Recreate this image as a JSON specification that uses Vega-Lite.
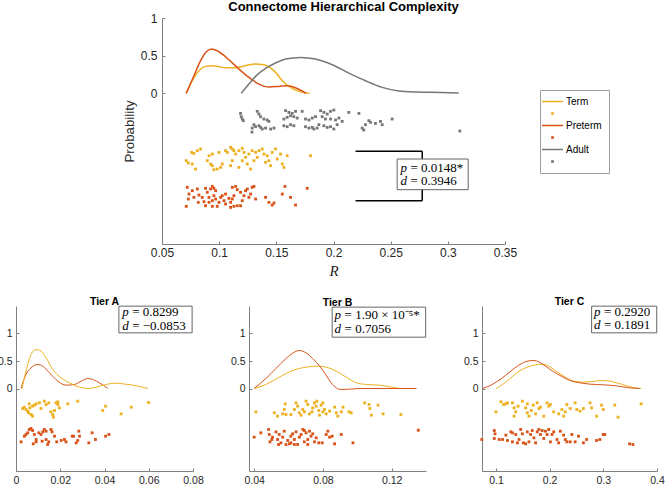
{
  "$schema": "https://vega.github.io/schema/vega-lite/v6.json",
  "padding": {"left": -3, "top": 1, "right": 0, "bottom": 0},
  "background": "white",
  "spacing": 19,
  "resolve": {"scale": {"color": "independent"}, "legend": {"color": "independent"}},
  "config": {
    "view": {"stroke": null},
    "font": "Liberation Sans",
    "axis": {"grid": false, "domainColor": "#808080", "tickColor": "#808080", "labelColor": "#262626", "titleColor": "#262626", "labelFont": "Liberation Sans", "titleFont": "Liberation Sans", "domainWidth": 1, "tickWidth": 1, "labelFlush": false, "labelOverlap": false},
    "title": {"font": "Liberation Sans", "color": "#000000"}
  },
  "datasets": {
    "top_curves": [
      {"group": "Term", "R": 0.0712, "value": 0}, {"group": "Term", "R": 0.0765, "value": 0.167}, {"group": "Term", "R": 0.0823, "value": 0.30}, {"group": "Term", "R": 0.0881, "value": 0.358}, {"group": "Term", "R": 0.094, "value": 0.367}, {"group": "Term", "R": 0.0998, "value": 0.353}, {"group": "Term", "R": 0.1056, "value": 0.34}, {"group": "Term", "R": 0.1144, "value": 0.34}, {"group": "Term", "R": 0.1231, "value": 0.367}, {"group": "Term", "R": 0.1319, "value": 0.389}, {"group": "Term", "R": 0.1377, "value": 0.384}, {"group": "Term", "R": 0.1435, "value": 0.353}, {"group": "Term", "R": 0.1493, "value": 0.278}, {"group": "Term", "R": 0.1552, "value": 0.167}, {"group": "Term", "R": 0.1624, "value": 0.079}, {"group": "Term", "R": 0.1697, "value": 0.026}, {"group": "Term", "R": 0.1791, "value": 0},
      {"group": "Preterm", "R": 0.0712, "value": 0}, {"group": "Preterm", "R": 0.0779, "value": 0.234}, {"group": "Preterm", "R": 0.0838, "value": 0.433}, {"group": "Preterm", "R": 0.0881, "value": 0.543}, {"group": "Preterm", "R": 0.0934, "value": 0.588}, {"group": "Preterm", "R": 0.0998, "value": 0.552}, {"group": "Preterm", "R": 0.1085, "value": 0.446}, {"group": "Preterm", "R": 0.1173, "value": 0.322}, {"group": "Preterm", "R": 0.126, "value": 0.212}, {"group": "Preterm", "R": 0.1348, "value": 0.123}, {"group": "Preterm", "R": 0.1435, "value": 0.084}, {"group": "Preterm", "R": 0.1522, "value": 0.092}, {"group": "Preterm", "R": 0.1595, "value": 0.101}, {"group": "Preterm", "R": 0.1668, "value": 0.075}, {"group": "Preterm", "R": 0.1726, "value": 0.031}, {"group": "Preterm", "R": 0.1761, "value": 0},
      {"group": "Adult", "R": 0.1193, "value": 0}, {"group": "Adult", "R": 0.126, "value": 0.123}, {"group": "Adult", "R": 0.1318, "value": 0.225}, {"group": "Adult", "R": 0.1406, "value": 0.331}, {"group": "Adult", "R": 0.1493, "value": 0.402}, {"group": "Adult", "R": 0.1581, "value": 0.455}, {"group": "Adult", "R": 0.1712, "value": 0.477}, {"group": "Adult", "R": 0.1843, "value": 0.455}, {"group": "Adult", "R": 0.1989, "value": 0.38}, {"group": "Adult", "R": 0.2134, "value": 0.269}, {"group": "Adult", "R": 0.228, "value": 0.167}, {"group": "Adult", "R": 0.2426, "value": 0.079}, {"group": "Adult", "R": 0.2571, "value": 0.031}, {"group": "Adult", "R": 0.2717, "value": 0.017}, {"group": "Adult", "R": 0.2863, "value": 0.013}, {"group": "Adult", "R": 0.3096, "value": 0.004}
    ],
    "top_dots": [
      {"group": "Adult", "R": 0.1187, "value": -0.266}, {"group": "Adult", "R": 0.1193, "value": -0.31}, {"group": "Adult", "R": 0.1202, "value": -0.341}, {"group": "Adult", "R": 0.1211, "value": -0.363}, {"group": "Adult", "R": 0.1333, "value": -0.239}, {"group": "Adult", "R": 0.1348, "value": -0.275}, {"group": "Adult", "R": 0.1362, "value": -0.31}, {"group": "Adult", "R": 0.1391, "value": -0.341}, {"group": "Adult", "R": 0.142, "value": -0.354}, {"group": "Adult", "R": 0.1435, "value": -0.372}, {"group": "Adult", "R": 0.1304, "value": -0.416}, {"group": "Adult", "R": 0.1289, "value": -0.461}, {"group": "Adult", "R": 0.1318, "value": -0.443}, {"group": "Adult", "R": 0.1348, "value": -0.43}, {"group": "Adult", "R": 0.1362, "value": -0.452}, {"group": "Adult", "R": 0.1377, "value": -0.474}, {"group": "Adult", "R": 0.1406, "value": -0.461}, {"group": "Adult", "R": 0.145, "value": -0.474}, {"group": "Adult", "R": 0.1479, "value": -0.461}, {"group": "Adult", "R": 0.1581, "value": -0.23}, {"group": "Adult", "R": 0.161, "value": -0.253}, {"group": "Adult", "R": 0.1639, "value": -0.266}, {"group": "Adult", "R": 0.1668, "value": -0.239}, {"group": "Adult", "R": 0.1726, "value": -0.239}, {"group": "Adult", "R": 0.1624, "value": -0.297}, {"group": "Adult", "R": 0.1566, "value": -0.341}, {"group": "Adult", "R": 0.1595, "value": -0.319}, {"group": "Adult", "R": 0.1653, "value": -0.31}, {"group": "Adult", "R": 0.1683, "value": -0.328}, {"group": "Adult", "R": 0.1755, "value": -0.341}, {"group": "Adult", "R": 0.1785, "value": -0.354}, {"group": "Adult", "R": 0.1814, "value": -0.328}, {"group": "Adult", "R": 0.1843, "value": -0.31}, {"group": "Adult", "R": 0.1887, "value": -0.23}, {"group": "Adult", "R": 0.1916, "value": -0.253}, {"group": "Adult", "R": 0.1945, "value": -0.275}, {"group": "Adult", "R": 0.1974, "value": -0.239}, {"group": "Adult", "R": 0.2003, "value": -0.222}, {"group": "Adult", "R": 0.1901, "value": -0.31}, {"group": "Adult", "R": 0.193, "value": -0.341}, {"group": "Adult", "R": 0.1974, "value": -0.341}, {"group": "Adult", "R": 0.2018, "value": -0.354}, {"group": "Adult", "R": 0.2047, "value": -0.328}, {"group": "Adult", "R": 0.2076, "value": -0.372}, {"group": "Adult", "R": 0.2134, "value": -0.253}, {"group": "Adult", "R": 0.2222, "value": -0.266}, {"group": "Adult", "R": 0.1566, "value": -0.43}, {"group": "Adult", "R": 0.1595, "value": -0.443}, {"group": "Adult", "R": 0.1624, "value": -0.416}, {"group": "Adult", "R": 0.1653, "value": -0.43}, {"group": "Adult", "R": 0.1755, "value": -0.443}, {"group": "Adult", "R": 0.1785, "value": -0.461}, {"group": "Adult", "R": 0.1814, "value": -0.452}, {"group": "Adult", "R": 0.1828, "value": -0.474}, {"group": "Adult", "R": 0.1857, "value": -0.461}, {"group": "Adult", "R": 0.1872, "value": -0.416}, {"group": "Adult", "R": 0.1916, "value": -0.43}, {"group": "Adult", "R": 0.1945, "value": -0.452}, {"group": "Adult", "R": 0.1974, "value": -0.443}, {"group": "Adult", "R": 0.2003, "value": -0.474}, {"group": "Adult", "R": 0.2032, "value": -0.416}, {"group": "Adult", "R": 0.2251, "value": -0.461}, {"group": "Adult", "R": 0.2265, "value": -0.487}, {"group": "Adult", "R": 0.228, "value": -0.416}, {"group": "Adult", "R": 0.2309, "value": -0.363}, {"group": "Adult", "R": 0.2324, "value": -0.385}, {"group": "Adult", "R": 0.2367, "value": -0.399}, {"group": "Adult", "R": 0.2411, "value": -0.372}, {"group": "Adult", "R": 0.2426, "value": -0.416}, {"group": "Adult", "R": 0.2513, "value": -0.341}, {"group": "Adult", "R": 0.3105, "value": -0.5}, {"group": "Adult", "R": 0.1287, "value": -0.515},
      {"group": "Term", "R": 0.0712, "value": -0.894}, {"group": "Term", "R": 0.073, "value": -0.925}, {"group": "Term", "R": 0.0759, "value": -0.784}, {"group": "Term", "R": 0.0779, "value": -0.797}, {"group": "Term", "R": 0.0809, "value": -0.761}, {"group": "Term", "R": 0.0838, "value": -0.739}, {"group": "Term", "R": 0.0911, "value": -0.828}, {"group": "Term", "R": 0.0896, "value": -0.894}, {"group": "Term", "R": 0.0925, "value": -0.938}, {"group": "Term", "R": 0.0954, "value": -1.014}, {"group": "Term", "R": 0.0983, "value": -1.005}, {"group": "Term", "R": 0.1013, "value": -0.983}, {"group": "Term", "R": 0.1027, "value": -0.938}, {"group": "Term", "R": 0.1056, "value": -0.761}, {"group": "Term", "R": 0.1071, "value": -0.784}, {"group": "Term", "R": 0.11, "value": -0.717}, {"group": "Term", "R": 0.1115, "value": -0.739}, {"group": "Term", "R": 0.1129, "value": -0.761}, {"group": "Term", "R": 0.1144, "value": -0.806}, {"group": "Term", "R": 0.1115, "value": -0.894}, {"group": "Term", "R": 0.11, "value": -0.96}, {"group": "Term", "R": 0.1202, "value": -0.73}, {"group": "Term", "R": 0.1217, "value": -0.784}, {"group": "Term", "R": 0.1202, "value": -0.894}, {"group": "Term", "R": 0.1231, "value": -0.85}, {"group": "Term", "R": 0.1246, "value": -0.938}, {"group": "Term", "R": 0.1275, "value": -1.005}, {"group": "Term", "R": 0.126, "value": -0.806}, {"group": "Term", "R": 0.1289, "value": -0.761}, {"group": "Term", "R": 0.1304, "value": -0.894}, {"group": "Term", "R": 0.1319, "value": -0.784}, {"group": "Term", "R": 0.1348, "value": -0.761}, {"group": "Term", "R": 0.1377, "value": -0.739}, {"group": "Term", "R": 0.1391, "value": -0.806}, {"group": "Term", "R": 0.142, "value": -0.828}, {"group": "Term", "R": 0.1435, "value": -0.894}, {"group": "Term", "R": 0.1464, "value": -0.784}, {"group": "Term", "R": 0.1493, "value": -0.739}, {"group": "Term", "R": 0.1508, "value": -0.872}, {"group": "Term", "R": 0.1537, "value": -0.806}, {"group": "Term", "R": 0.1552, "value": -0.938}, {"group": "Term", "R": 0.1566, "value": -0.983}, {"group": "Term", "R": 0.1595, "value": -0.828}, {"group": "Term", "R": 0.1799, "value": -0.828}, {"group": "Term", "R": 0.0765, "value": -0.938}, {"group": "Term", "R": 0.094, "value": -0.96}, {"group": "Term", "R": 0.0998, "value": -0.784}, {"group": "Term", "R": 0.1173, "value": -0.761}, {"group": "Term", "R": 0.1333, "value": -0.85}, {"group": "Term", "R": 0.145, "value": -0.96}, {"group": "Term", "R": 0.094, "value": -0.806}, {"group": "Term", "R": 0.0794, "value": -1.005}, {"group": "Term", "R": 0.1173, "value": -0.983}, {"group": "Term", "R": 0.1406, "value": -0.916},
      {"group": "Preterm", "R": 0.0721, "value": -1.248}, {"group": "Preterm", "R": 0.0736, "value": -1.337}, {"group": "Preterm", "R": 0.073, "value": -1.403}, {"group": "Preterm", "R": 0.0712, "value": -1.5}, {"group": "Preterm", "R": 0.0765, "value": -1.292}, {"group": "Preterm", "R": 0.0779, "value": -1.381}, {"group": "Preterm", "R": 0.0809, "value": -1.27}, {"group": "Preterm", "R": 0.0823, "value": -1.35}, {"group": "Preterm", "R": 0.0817, "value": -1.447}, {"group": "Preterm", "R": 0.0881, "value": -1.261}, {"group": "Preterm", "R": 0.0896, "value": -1.314}, {"group": "Preterm", "R": 0.0911, "value": -1.381}, {"group": "Preterm", "R": 0.0925, "value": -1.27}, {"group": "Preterm", "R": 0.094, "value": -1.235}, {"group": "Preterm", "R": 0.0954, "value": -1.261}, {"group": "Preterm", "R": 0.0969, "value": -1.292}, {"group": "Preterm", "R": 0.0954, "value": -1.359}, {"group": "Preterm", "R": 0.094, "value": -1.425}, {"group": "Preterm", "R": 0.0911, "value": -1.447}, {"group": "Preterm", "R": 0.0881, "value": -1.492}, {"group": "Preterm", "R": 0.094, "value": -1.5}, {"group": "Preterm", "R": 0.0969, "value": -1.403}, {"group": "Preterm", "R": 0.0998, "value": -1.447}, {"group": "Preterm", "R": 0.1013, "value": -1.381}, {"group": "Preterm", "R": 0.1027, "value": -1.359}, {"group": "Preterm", "R": 0.1042, "value": -1.425}, {"group": "Preterm", "R": 0.1056, "value": -1.469}, {"group": "Preterm", "R": 0.11, "value": -1.447}, {"group": "Preterm", "R": 0.1115, "value": -1.403}, {"group": "Preterm", "R": 0.1129, "value": -1.359}, {"group": "Preterm", "R": 0.1115, "value": -1.248}, {"group": "Preterm", "R": 0.1144, "value": -1.235}, {"group": "Preterm", "R": 0.1158, "value": -1.279}, {"group": "Preterm", "R": 0.11, "value": -1.514}, {"group": "Preterm", "R": 0.1129, "value": -1.5}, {"group": "Preterm", "R": 0.1158, "value": -1.492}, {"group": "Preterm", "R": 0.1202, "value": -1.425}, {"group": "Preterm", "R": 0.1217, "value": -1.359}, {"group": "Preterm", "R": 0.1231, "value": -1.292}, {"group": "Preterm", "R": 0.1246, "value": -1.27}, {"group": "Preterm", "R": 0.126, "value": -1.381}, {"group": "Preterm", "R": 0.1275, "value": -1.337}, {"group": "Preterm", "R": 0.1289, "value": -1.248}, {"group": "Preterm", "R": 0.1304, "value": -1.235}, {"group": "Preterm", "R": 0.1406, "value": -1.381}, {"group": "Preterm", "R": 0.1435, "value": -1.447}, {"group": "Preterm", "R": 0.1464, "value": -1.483}, {"group": "Preterm", "R": 0.1479, "value": -1.456}, {"group": "Preterm", "R": 0.1552, "value": -1.337}, {"group": "Preterm", "R": 0.1575, "value": -1.235}, {"group": "Preterm", "R": 0.1624, "value": -1.381}, {"group": "Preterm", "R": 0.1668, "value": -1.483}, {"group": "Preterm", "R": 0.177, "value": -1.261}, {"group": "Preterm", "R": 0.0852, "value": -1.381}, {"group": "Preterm", "R": 0.0867, "value": -1.438}, {"group": "Preterm", "R": 0.0983, "value": -1.5}, {"group": "Preterm", "R": 0.1187, "value": -1.492}, {"group": "Preterm", "R": 0.1056, "value": -1.337}, {"group": "Preterm", "R": 0.1085, "value": -1.394}, {"group": "Preterm", "R": 0.1187, "value": -1.314}, {"group": "Preterm", "R": 0.1319, "value": -1.403}
    ],
    "top_bracket": [
      {"x": 0.2193, "x2": 0.2776, "y": -0.77, "y2": -0.77},
      {"x": 0.2193, "x2": 0.2776, "y": -1.425, "y2": -1.425},
      {"x": 0.2776, "x2": 0.2776, "y": -0.77, "y2": -1.425}
    ],
    "top_box": [{"x": 0.2557, "x2": 0.3178, "y": -0.872, "y2": -1.279}],
    "top_text": [{"sym": "p", "rest": "= 0.0148*", "x": 0.2586, "y": -0.996}, {"sym": "d", "rest": "= 0.3946", "x": 0.2586, "y": -1.16}],
    "a_curves": [
      {"group": "Preterm", "R": 0.0023, "value": 0}, {"group": "Preterm", "R": 0.0045, "value": 0.255}, {"group": "Preterm", "R": 0.0068, "value": 0.376}, {"group": "Preterm", "R": 0.0098, "value": 0.436}, {"group": "Preterm", "R": 0.0121, "value": 0.406}, {"group": "Preterm", "R": 0.0151, "value": 0.285}, {"group": "Preterm", "R": 0.0189, "value": 0.133}, {"group": "Preterm", "R": 0.0226, "value": 0.061}, {"group": "Preterm", "R": 0.0264, "value": 0.073}, {"group": "Preterm", "R": 0.0294, "value": 0.133}, {"group": "Preterm", "R": 0.0325, "value": 0.182}, {"group": "Preterm", "R": 0.0347, "value": 0.164}, {"group": "Preterm", "R": 0.0377, "value": 0.103}, {"group": "Preterm", "R": 0.0415, "value": 0},
      {"group": "Term", "R": 0.0027, "value": 0}, {"group": "Term", "R": 0.0045, "value": 0.315}, {"group": "Term", "R": 0.0068, "value": 0.618}, {"group": "Term", "R": 0.0091, "value": 0.709}, {"group": "Term", "R": 0.0113, "value": 0.679}, {"group": "Term", "R": 0.0136, "value": 0.558}, {"group": "Term", "R": 0.0166, "value": 0.345}, {"group": "Term", "R": 0.0204, "value": 0.194}, {"group": "Term", "R": 0.0242, "value": 0.103}, {"group": "Term", "R": 0.0287, "value": 0.024}, {"group": "Term", "R": 0.0325, "value": 0}, {"group": "Term", "R": 0.0362, "value": 0.024}, {"group": "Term", "R": 0.0408, "value": 0.073}, {"group": "Term", "R": 0.0445, "value": 0.097}, {"group": "Term", "R": 0.0483, "value": 0.085}, {"group": "Term", "R": 0.0528, "value": 0.061}, {"group": "Term", "R": 0.0596, "value": 0}
    ],
    "a_dots": [
      {"group": "Term", "R": 0.003, "value": -0.364}, {"group": "Term", "R": 0.0038, "value": -0.339}, {"group": "Term", "R": 0.0045, "value": -0.382}, {"group": "Term", "R": 0.0053, "value": -0.412}, {"group": "Term", "R": 0.0057, "value": -0.442}, {"group": "Term", "R": 0.0068, "value": -0.473}, {"group": "Term", "R": 0.0063, "value": -0.352}, {"group": "Term", "R": 0.0075, "value": -0.321}, {"group": "Term", "R": 0.0083, "value": -0.303}, {"group": "Term", "R": 0.0091, "value": -0.279}, {"group": "Term", "R": 0.0106, "value": -0.261}, {"group": "Term", "R": 0.0128, "value": -0.23}, {"group": "Term", "R": 0.0136, "value": -0.291}, {"group": "Term", "R": 0.0148, "value": -0.261}, {"group": "Term", "R": 0.0158, "value": -0.424}, {"group": "Term", "R": 0.0166, "value": -0.473}, {"group": "Term", "R": 0.0174, "value": -0.4}, {"group": "Term", "R": 0.0169, "value": -0.521}, {"group": "Term", "R": 0.0181, "value": -0.261}, {"group": "Term", "R": 0.0189, "value": -0.291}, {"group": "Term", "R": 0.0196, "value": -0.352}, {"group": "Term", "R": 0.0234, "value": -0.279}, {"group": "Term", "R": 0.0279, "value": -0.23}, {"group": "Term", "R": 0.0392, "value": -0.4}, {"group": "Term", "R": 0.0405, "value": -0.321}, {"group": "Term", "R": 0.0475, "value": -0.461}, {"group": "Term", "R": 0.0521, "value": -0.339}, {"group": "Term", "R": 0.0599, "value": -0.255}, {"group": "Term", "R": 0.0075, "value": -0.503}, {"group": "Term", "R": 0.006, "value": -0.279}, {"group": "Term", "R": 0.0113, "value": -0.364}, {"group": "Term", "R": 0.0189, "value": -0.242},
      {"group": "Preterm", "R": 0.0023, "value": -0.97}, {"group": "Preterm", "R": 0.0038, "value": -0.867}, {"group": "Preterm", "R": 0.0045, "value": -0.836}, {"group": "Preterm", "R": 0.0053, "value": -0.806}, {"group": "Preterm", "R": 0.006, "value": -0.745}, {"group": "Preterm", "R": 0.0068, "value": -0.727}, {"group": "Preterm", "R": 0.0075, "value": -0.764}, {"group": "Preterm", "R": 0.0083, "value": -0.836}, {"group": "Preterm", "R": 0.0091, "value": -0.927}, {"group": "Preterm", "R": 0.0091, "value": -0.97}, {"group": "Preterm", "R": 0.0103, "value": -0.806}, {"group": "Preterm", "R": 0.0113, "value": -0.836}, {"group": "Preterm", "R": 0.0121, "value": -0.788}, {"group": "Preterm", "R": 0.0128, "value": -0.745}, {"group": "Preterm", "R": 0.0136, "value": -0.776}, {"group": "Preterm", "R": 0.0136, "value": -0.927}, {"group": "Preterm", "R": 0.0143, "value": -1.018}, {"group": "Preterm", "R": 0.0148, "value": -0.97}, {"group": "Preterm", "R": 0.0158, "value": -0.745}, {"group": "Preterm", "R": 0.0163, "value": -0.788}, {"group": "Preterm", "R": 0.0174, "value": -0.867}, {"group": "Preterm", "R": 0.0184, "value": -0.97}, {"group": "Preterm", "R": 0.0204, "value": -0.945}, {"group": "Preterm", "R": 0.0219, "value": -0.927}, {"group": "Preterm", "R": 0.0226, "value": -0.97}, {"group": "Preterm", "R": 0.0254, "value": -0.867}, {"group": "Preterm", "R": 0.026, "value": -0.867}, {"group": "Preterm", "R": 0.0272, "value": -0.988}, {"group": "Preterm", "R": 0.0279, "value": -0.945}, {"group": "Preterm", "R": 0.0284, "value": -0.776}, {"group": "Preterm", "R": 0.0287, "value": -0.867}, {"group": "Preterm", "R": 0.0329, "value": -0.988}, {"group": "Preterm", "R": 0.0344, "value": -0.806}, {"group": "Preterm", "R": 0.0359, "value": -0.927}, {"group": "Preterm", "R": 0.0405, "value": -0.867}, {"group": "Preterm", "R": 0.042, "value": -0.836}, {"group": "Preterm", "R": 0.0078, "value": -1.006}, {"group": "Preterm", "R": 0.0118, "value": -0.958}
    ],
    "a_box": [{"x": 0.0465, "x2": 0.0796, "y": 1.012, "y2": 1.497}],
    "a_text": [{"sym": "p", "rest": "= 0.8299", "x": 0.048, "y": 1.394}, {"sym": "d", "rest": "= −0.0853", "x": 0.048, "y": 1.133}],
    "b_curves": [
      {"group": "Term", "R": 0.04, "value": 0}, {"group": "Term", "R": 0.0468, "value": 0.073}, {"group": "Term", "R": 0.0546, "value": 0.206}, {"group": "Term", "R": 0.0624, "value": 0.327}, {"group": "Term", "R": 0.0702, "value": 0.388}, {"group": "Term", "R": 0.077, "value": 0.406}, {"group": "Term", "R": 0.0819, "value": 0.388}, {"group": "Term", "R": 0.0878, "value": 0.315}, {"group": "Term", "R": 0.0936, "value": 0.206}, {"group": "Term", "R": 0.0995, "value": 0.103}, {"group": "Term", "R": 0.1053, "value": 0.073}, {"group": "Term", "R": 0.1131, "value": 0.061}, {"group": "Term", "R": 0.1189, "value": 0.03}, {"group": "Term", "R": 0.1248, "value": 0},
      {"group": "Preterm", "R": 0.04, "value": 0}, {"group": "Preterm", "R": 0.0468, "value": 0.182}, {"group": "Preterm", "R": 0.0527, "value": 0.364}, {"group": "Preterm", "R": 0.0585, "value": 0.545}, {"group": "Preterm", "R": 0.0624, "value": 0.642}, {"group": "Preterm", "R": 0.0663, "value": 0.691}, {"group": "Preterm", "R": 0.0702, "value": 0.648}, {"group": "Preterm", "R": 0.0741, "value": 0.545}, {"group": "Preterm", "R": 0.0784, "value": 0.394}, {"group": "Preterm", "R": 0.0819, "value": 0.242}, {"group": "Preterm", "R": 0.0848, "value": 0.103}, {"group": "Preterm", "R": 0.0878, "value": 0.012}, {"group": "Preterm", "R": 0.0907, "value": -0.018}, {"group": "Preterm", "R": 0.0956, "value": -0.012}, {"group": "Preterm", "R": 0.1014, "value": 0}, {"group": "Preterm", "R": 0.1209, "value": 0}, {"group": "Preterm", "R": 0.1345, "value": 0}
    ],
    "b_dots": [
      {"group": "Term", "R": 0.041, "value": -0.424}, {"group": "Term", "R": 0.0517, "value": -0.442}, {"group": "Term", "R": 0.0536, "value": -0.503}, {"group": "Term", "R": 0.0566, "value": -0.461}, {"group": "Term", "R": 0.0575, "value": -0.382}, {"group": "Term", "R": 0.0581, "value": -0.279}, {"group": "Term", "R": 0.0614, "value": -0.473}, {"group": "Term", "R": 0.0644, "value": -0.261}, {"group": "Term", "R": 0.0653, "value": -0.321}, {"group": "Term", "R": 0.0663, "value": -0.442}, {"group": "Term", "R": 0.0673, "value": -0.485}, {"group": "Term", "R": 0.0683, "value": -0.382}, {"group": "Term", "R": 0.0692, "value": -0.424}, {"group": "Term", "R": 0.0702, "value": -0.23}, {"group": "Term", "R": 0.0712, "value": -0.291}, {"group": "Term", "R": 0.0722, "value": -0.461}, {"group": "Term", "R": 0.0737, "value": -0.424}, {"group": "Term", "R": 0.0751, "value": -0.261}, {"group": "Term", "R": 0.0761, "value": -0.321}, {"group": "Term", "R": 0.0765, "value": -0.23}, {"group": "Term", "R": 0.0776, "value": -0.4}, {"group": "Term", "R": 0.078, "value": -0.485}, {"group": "Term", "R": 0.079, "value": -0.303}, {"group": "Term", "R": 0.08, "value": -0.424}, {"group": "Term", "R": 0.0809, "value": -0.382}, {"group": "Term", "R": 0.0819, "value": -0.461}, {"group": "Term", "R": 0.0868, "value": -0.339}, {"group": "Term", "R": 0.0878, "value": -0.442}, {"group": "Term", "R": 0.0887, "value": -0.503}, {"group": "Term", "R": 0.0907, "value": -0.424}, {"group": "Term", "R": 0.0917, "value": -0.339}, {"group": "Term", "R": 0.0952, "value": -0.424}, {"group": "Term", "R": 0.0965, "value": -0.442}, {"group": "Term", "R": 0.1043, "value": -0.261}, {"group": "Term", "R": 0.1069, "value": -0.291}, {"group": "Term", "R": 0.1073, "value": -0.364}, {"group": "Term", "R": 0.1082, "value": -0.485}, {"group": "Term", "R": 0.1121, "value": -0.303}, {"group": "Term", "R": 0.115, "value": -0.461}, {"group": "Term", "R": 0.1254, "value": -0.473}, {"group": "Term", "R": 0.0585, "value": -0.473}, {"group": "Term", "R": 0.0634, "value": -0.382}, {"group": "Term", "R": 0.0741, "value": -0.352}, {"group": "Term", "R": 0.08, "value": -0.261}, {"group": "Term", "R": 0.0839, "value": -0.412},
      {"group": "Preterm", "R": 0.04, "value": -0.885}, {"group": "Preterm", "R": 0.0439, "value": -0.806}, {"group": "Preterm", "R": 0.0484, "value": -0.745}, {"group": "Preterm", "R": 0.0488, "value": -0.836}, {"group": "Preterm", "R": 0.0492, "value": -0.97}, {"group": "Preterm", "R": 0.0507, "value": -0.885}, {"group": "Preterm", "R": 0.0527, "value": -0.788}, {"group": "Preterm", "R": 0.0536, "value": -0.927}, {"group": "Preterm", "R": 0.0546, "value": -0.836}, {"group": "Preterm", "R": 0.0556, "value": -0.988}, {"group": "Preterm", "R": 0.0566, "value": -0.885}, {"group": "Preterm", "R": 0.0575, "value": -0.776}, {"group": "Preterm", "R": 0.0585, "value": -1.018}, {"group": "Preterm", "R": 0.0595, "value": -0.945}, {"group": "Preterm", "R": 0.0605, "value": -1.006}, {"group": "Preterm", "R": 0.0614, "value": -0.867}, {"group": "Preterm", "R": 0.0624, "value": -0.824}, {"group": "Preterm", "R": 0.0634, "value": -0.927}, {"group": "Preterm", "R": 0.0644, "value": -0.788}, {"group": "Preterm", "R": 0.0653, "value": -1.018}, {"group": "Preterm", "R": 0.0663, "value": -0.885}, {"group": "Preterm", "R": 0.0673, "value": -0.836}, {"group": "Preterm", "R": 0.0683, "value": -0.745}, {"group": "Preterm", "R": 0.0692, "value": -0.97}, {"group": "Preterm", "R": 0.0702, "value": -0.806}, {"group": "Preterm", "R": 0.0712, "value": -0.927}, {"group": "Preterm", "R": 0.0722, "value": -0.776}, {"group": "Preterm", "R": 0.0731, "value": -0.867}, {"group": "Preterm", "R": 0.0741, "value": -0.824}, {"group": "Preterm", "R": 0.0751, "value": -0.97}, {"group": "Preterm", "R": 0.0761, "value": -0.897}, {"group": "Preterm", "R": 0.0776, "value": -0.988}, {"group": "Preterm", "R": 0.0796, "value": -0.988}, {"group": "Preterm", "R": 0.0819, "value": -0.836}, {"group": "Preterm", "R": 0.0829, "value": -0.776}, {"group": "Preterm", "R": 0.0839, "value": -0.885}, {"group": "Preterm", "R": 0.0854, "value": -0.867}, {"group": "Preterm", "R": 0.0868, "value": -1.006}, {"group": "Preterm", "R": 0.0907, "value": -0.836}, {"group": "Preterm", "R": 0.0975, "value": -0.988}, {"group": "Preterm", "R": 0.1355, "value": -0.758}, {"group": "Preterm", "R": 0.0503, "value": -0.927}, {"group": "Preterm", "R": 0.0542, "value": -1.018}, {"group": "Preterm", "R": 0.0634, "value": -1.018}, {"group": "Preterm", "R": 0.0712, "value": -1.018}, {"group": "Preterm", "R": 0.0692, "value": -0.764}, {"group": "Preterm", "R": 0.0614, "value": -0.988}
    ],
    "b_box": [{"x": 0.0854, "x2": 0.1398, "y": 0.933, "y2": 1.479}],
    "b_text": [{"sym": "p", "rest": "= 1.90 × 10⁻⁵*", "x": 0.0868, "y": 1.333}, {"sym": "d", "rest": "= 0.7056", "x": 0.0868, "y": 1.073}],
    "c_curves": [
      {"group": "Term", "R": 0.1, "value": 0}, {"group": "Term", "R": 0.1123, "value": 0.073}, {"group": "Term", "R": 0.1277, "value": 0.194}, {"group": "Term", "R": 0.143, "value": 0.315}, {"group": "Term", "R": 0.1584, "value": 0.388}, {"group": "Term", "R": 0.1738, "value": 0.43}, {"group": "Term", "R": 0.186, "value": 0.442}, {"group": "Term", "R": 0.1983, "value": 0.406}, {"group": "Term", "R": 0.2137, "value": 0.303}, {"group": "Term", "R": 0.2291, "value": 0.206}, {"group": "Term", "R": 0.2444, "value": 0.133}, {"group": "Term", "R": 0.2629, "value": 0.115}, {"group": "Term", "R": 0.2844, "value": 0.133}, {"group": "Term", "R": 0.2998, "value": 0.145}, {"group": "Term", "R": 0.3182, "value": 0.121}, {"group": "Term", "R": 0.3397, "value": 0.061}, {"group": "Term", "R": 0.3581, "value": 0.012}, {"group": "Term", "R": 0.3704, "value": 0},
      {"group": "Preterm", "R": 0.0754, "value": 0}, {"group": "Preterm", "R": 0.0908, "value": 0.061}, {"group": "Preterm", "R": 0.1031, "value": 0.133}, {"group": "Preterm", "R": 0.1184, "value": 0.242}, {"group": "Preterm", "R": 0.1338, "value": 0.364}, {"group": "Preterm", "R": 0.1492, "value": 0.461}, {"group": "Preterm", "R": 0.1615, "value": 0.503}, {"group": "Preterm", "R": 0.1707, "value": 0.509}, {"group": "Preterm", "R": 0.1799, "value": 0.485}, {"group": "Preterm", "R": 0.1922, "value": 0.406}, {"group": "Preterm", "R": 0.2076, "value": 0.303}, {"group": "Preterm", "R": 0.2229, "value": 0.218}, {"group": "Preterm", "R": 0.2383, "value": 0.145}, {"group": "Preterm", "R": 0.2567, "value": 0.103}, {"group": "Preterm", "R": 0.2752, "value": 0.079}, {"group": "Preterm", "R": 0.2998, "value": 0.067}, {"group": "Preterm", "R": 0.3243, "value": 0.048}, {"group": "Preterm", "R": 0.3489, "value": 0.012}, {"group": "Preterm", "R": 0.3674, "value": 0}
    ],
    "c_dots": [
      {"group": "Term", "R": 0.1, "value": -0.424}, {"group": "Term", "R": 0.1092, "value": -0.242}, {"group": "Term", "R": 0.1141, "value": -0.291}, {"group": "Term", "R": 0.1184, "value": -0.279}, {"group": "Term", "R": 0.1215, "value": -0.261}, {"group": "Term", "R": 0.1307, "value": -0.261}, {"group": "Term", "R": 0.1338, "value": -0.503}, {"group": "Term", "R": 0.1369, "value": -0.424}, {"group": "Term", "R": 0.1412, "value": -0.321}, {"group": "Term", "R": 0.1492, "value": -0.23}, {"group": "Term", "R": 0.1553, "value": -0.352}, {"group": "Term", "R": 0.1584, "value": -0.442}, {"group": "Term", "R": 0.1615, "value": -0.503}, {"group": "Term", "R": 0.1658, "value": -0.4}, {"group": "Term", "R": 0.1695, "value": -0.303}, {"group": "Term", "R": 0.1738, "value": -0.461}, {"group": "Term", "R": 0.1768, "value": -0.261}, {"group": "Term", "R": 0.1799, "value": -0.364}, {"group": "Term", "R": 0.183, "value": -0.339}, {"group": "Term", "R": 0.1953, "value": -0.261}, {"group": "Term", "R": 0.1983, "value": -0.321}, {"group": "Term", "R": 0.2014, "value": -0.291}, {"group": "Term", "R": 0.2076, "value": -0.424}, {"group": "Term", "R": 0.2168, "value": -0.461}, {"group": "Term", "R": 0.2229, "value": -0.382}, {"group": "Term", "R": 0.226, "value": -0.503}, {"group": "Term", "R": 0.2291, "value": -0.424}, {"group": "Term", "R": 0.2321, "value": -0.291}, {"group": "Term", "R": 0.2475, "value": -0.261}, {"group": "Term", "R": 0.2506, "value": -0.382}, {"group": "Term", "R": 0.2567, "value": -0.412}, {"group": "Term", "R": 0.2629, "value": -0.364}, {"group": "Term", "R": 0.2752, "value": -0.261}, {"group": "Term", "R": 0.2782, "value": -0.352}, {"group": "Term", "R": 0.2875, "value": -0.503}, {"group": "Term", "R": 0.2967, "value": -0.303}, {"group": "Term", "R": 0.2998, "value": -0.382}, {"group": "Term", "R": 0.3213, "value": -0.303}, {"group": "Term", "R": 0.3274, "value": -0.521}, {"group": "Term", "R": 0.3704, "value": -0.279}, {"group": "Term", "R": 0.1891, "value": -0.503}, {"group": "Term", "R": 0.1584, "value": -0.279}, {"group": "Term", "R": 0.2383, "value": -0.364}, {"group": "Term", "R": 0.1338, "value": -0.352},
      {"group": "Preterm", "R": 0.0736, "value": -0.927}, {"group": "Preterm", "R": 0.0969, "value": -0.764}, {"group": "Preterm", "R": 0.0982, "value": -0.824}, {"group": "Preterm", "R": 0.0969, "value": -0.909}, {"group": "Preterm", "R": 0.1061, "value": -0.927}, {"group": "Preterm", "R": 0.1123, "value": -0.927}, {"group": "Preterm", "R": 0.1215, "value": -0.945}, {"group": "Preterm", "R": 0.1277, "value": -0.788}, {"group": "Preterm", "R": 0.1307, "value": -0.806}, {"group": "Preterm", "R": 0.1307, "value": -0.97}, {"group": "Preterm", "R": 0.1369, "value": -0.836}, {"group": "Preterm", "R": 0.14, "value": -0.988}, {"group": "Preterm", "R": 0.1461, "value": -0.745}, {"group": "Preterm", "R": 0.1492, "value": -0.824}, {"group": "Preterm", "R": 0.151, "value": -0.988}, {"group": "Preterm", "R": 0.1553, "value": -1.006}, {"group": "Preterm", "R": 0.1584, "value": -0.788}, {"group": "Preterm", "R": 0.1615, "value": -0.97}, {"group": "Preterm", "R": 0.1645, "value": -0.836}, {"group": "Preterm", "R": 0.1676, "value": -0.764}, {"group": "Preterm", "R": 0.1707, "value": -0.897}, {"group": "Preterm", "R": 0.1738, "value": -0.988}, {"group": "Preterm", "R": 0.1768, "value": -0.788}, {"group": "Preterm", "R": 0.1799, "value": -0.745}, {"group": "Preterm", "R": 0.183, "value": -0.836}, {"group": "Preterm", "R": 0.186, "value": -0.764}, {"group": "Preterm", "R": 0.1891, "value": -0.909}, {"group": "Preterm", "R": 0.1922, "value": -0.776}, {"group": "Preterm", "R": 0.1953, "value": -0.836}, {"group": "Preterm", "R": 0.1983, "value": -0.745}, {"group": "Preterm", "R": 0.2014, "value": -0.97}, {"group": "Preterm", "R": 0.2045, "value": -0.836}, {"group": "Preterm", "R": 0.2076, "value": -0.788}, {"group": "Preterm", "R": 0.2137, "value": -0.927}, {"group": "Preterm", "R": 0.2168, "value": -0.988}, {"group": "Preterm", "R": 0.2199, "value": -0.776}, {"group": "Preterm", "R": 0.226, "value": -0.848}, {"group": "Preterm", "R": 0.2291, "value": -0.927}, {"group": "Preterm", "R": 0.2321, "value": -0.97}, {"group": "Preterm", "R": 0.2383, "value": -0.97}, {"group": "Preterm", "R": 0.2414, "value": -0.836}, {"group": "Preterm", "R": 0.2475, "value": -0.97}, {"group": "Preterm", "R": 0.2537, "value": -0.867}, {"group": "Preterm", "R": 0.2629, "value": -0.988}, {"group": "Preterm", "R": 0.269, "value": -0.927}, {"group": "Preterm", "R": 0.2875, "value": -0.945}, {"group": "Preterm", "R": 0.2936, "value": -0.927}, {"group": "Preterm", "R": 0.2998, "value": -0.836}, {"group": "Preterm", "R": 0.3028, "value": -0.836}, {"group": "Preterm", "R": 0.3489, "value": -1.006}, {"group": "Preterm", "R": 0.3551, "value": -1.018}, {"group": "Preterm", "R": 0.1184, "value": -0.848}, {"group": "Preterm", "R": 0.143, "value": -0.927}
    ],
    "c_box": [{"x": 0.2782, "x2": 0.3995, "y": 1.012, "y2": 1.497}],
    "c_text": [{"sym": "p", "rest": "= 0.2920", "x": 0.2825, "y": 1.394}, {"sym": "d", "rest": "= 0.1891", "x": 0.2825, "y": 1.152}]
  },
  "vconcat": [
    {
      "bounds": "flush",
      "spacing": 0,
      "hconcat": [
        {"width": 146, "height": 226, "data": {"values": [{"a": 1}]}, "mark": {"type": "point", "opacity": 0}},
        {
          "width": 343, "height": 226,
          "title": {"text": "Connectome Hierarchical Complexity", "fontSize": 13, "fontWeight": "bold", "offset": -2, "dx": 10},
          "layer": [
            {
              "data": {"name": "top_curves"},
              "mark": {"type": "line", "strokeWidth": 1.5, "interpolate": "monotone"},
              "encoding": {
                "x": {"field": "R", "type": "quantitative", "scale": {"domain": [0.05, 0.35], "nice": false, "zero": false},
                      "axis": {"values": [0.05, 0.1, 0.15, 0.2, 0.25, 0.3, 0.35], "format": "~g", "title": "R", "titleFont": "Liberation Serif", "titleFontStyle": "italic", "titleFontWeight": "normal", "titleFontSize": 15, "titlePadding": 5, "labelFontSize": 12, "tickSize": -3, "labelPadding": 6}},
                "y": {"field": "value", "type": "quantitative", "scale": {"domain": [-2, 1], "nice": false, "zero": false},
                      "axis": {"values": [0, 0.5, 1], "format": "~g", "title": "Probability", "titleFontWeight": "normal", "titleFontSize": 13.3, "titlePadding": 4, "labelFontSize": 12, "tickSize": -3, "labelPadding": 8}},
                "color": {"field": "group", "type": "nominal",
                  "scale": {"domain": ["Term", "Term dots", "Preterm", "Preterm dots", "Adult", "Adult dots"], "range": ["#EDB120", "#EDB120", "#D95319", "#D95319", "#777777", "#6E6E6E"]},
                  "legend": {"orient": "none", "legendX": 524, "legendY": 72, "title": null, "direction": "vertical", "fillColor": "white", "strokeColor": "#a0a0a0", "padding": 6.5, "symbolSize": 100, "symbolOffset": 1, "labelOffset": 8.5, "labelFontSize": 10, "labelColor": "#000000", "rowPadding": 2,
                    "labelExpr": "indexof(datum.label, 'dots') >= 0 ? '' : datum.label",
                    "encode": {"symbols": {"update": {
                      "shape": {"signal": "datum.index % 2 ? 'square' : 'stroke'"},
                      "size": {"signal": "datum.index % 2 ? 7 : 441"},
                      "stroke": {"signal": "['#EDB120','transparent','#D95319','transparent','#777777','transparent'][datum.index]"},
                      "fill": {"signal": "['transparent','#EDB120','transparent','#D95319','transparent','#6E6E6E'][datum.index]"},
                      "strokeWidth": {"signal": "datum.index % 2 ? 0 : 1.5"},
                      "opacity": {"value": 1}}}}}}
              }
            },
            {
              "data": {"name": "top_dots"},
              "mark": {"type": "point", "shape": "square", "filled": true, "size": 8, "opacity": 1},
              "encoding": {
                "x": {"field": "R", "type": "quantitative"},
                "y": {"field": "value", "type": "quantitative"},
                "color": {"field": "group", "type": "nominal"}
              }
            },
            {
              "data": {"name": "top_bracket"},
              "mark": {"type": "rule", "color": "#000000", "strokeWidth": 1.5},
              "encoding": {"x": {"field": "x", "type": "quantitative"}, "x2": {"field": "x2"}, "y": {"field": "y", "type": "quantitative"}, "y2": {"field": "y2"}}
            },
            {
              "data": {"name": "top_box"},
              "mark": {"type": "rect", "fill": "white", "stroke": "#666666", "strokeWidth": 1},
              "encoding": {"x": {"field": "x", "type": "quantitative"}, "x2": {"field": "x2"}, "y": {"field": "y", "type": "quantitative"}, "y2": {"field": "y2"}}
            },
            {
              "data": {"name": "top_text"},
              "mark": {"type": "text", "font": "Liberation Serif", "fontStyle": "italic", "fontSize": 13, "align": "left", "baseline": "middle", "color": "#000000"},
              "encoding": {"x": {"field": "x", "type": "quantitative"}, "y": {"field": "y", "type": "quantitative"}, "text": {"field": "sym"}}
            },
            {
              "data": {"name": "top_text"},
              "mark": {"type": "text", "font": "Liberation Serif", "fontSize": 13, "align": "left", "baseline": "middle", "dx": 10, "color": "#000000"},
              "encoding": {"x": {"field": "x", "type": "quantitative"}, "y": {"field": "y", "type": "quantitative"}, "text": {"field": "rest"}}
            }
          ]
        }
      ]
    },
    {
      "bounds": "flush",
      "spacing": 56,
      "hconcat": [
        {
          "width": 177, "height": 165,
          "title": {"text": "Tier A", "fontSize": 10.5, "fontWeight": "bold", "offset": -2},
          "layer": [
            {"data": {"name": "a_curves"}, "mark": {"type": "line", "strokeWidth": 1, "interpolate": "monotone"},
             "encoding": {
               "x": {"field": "R", "type": "quantitative", "scale": {"domain": [0, 0.08], "nice": false, "zero": false}, "axis": {"values": [0, 0.02, 0.04, 0.06, 0.08], "format": "~g", "title": null, "labelFontSize": 10.5, "tickSize": -3, "labelPadding": 7}},
               "y": {"field": "value", "type": "quantitative", "scale": {"domain": [-1.5, 1.5], "nice": false, "zero": false}, "axis": {"values": [0, 0.5, 1], "format": "~g", "title": null, "labelFontSize": 10.5, "tickSize": -3, "labelPadding": 7}},
               "color": {"field": "group", "type": "nominal", "scale": {"domain": ["Term", "Preterm"], "range": ["#EDB120", "#D95319"]}, "legend": null}}},
            {"data": {"name": "a_dots"}, "mark": {"type": "point", "shape": "square", "filled": true, "size": 8, "opacity": 1},
             "encoding": {"x": {"field": "R", "type": "quantitative"}, "y": {"field": "value", "type": "quantitative"}, "color": {"field": "group", "type": "nominal", "legend": null}}},
            {"data": {"name": "a_box"}, "mark": {"type": "rect", "fill": "white", "stroke": "#666666", "strokeWidth": 1},
             "encoding": {"x": {"field": "x", "type": "quantitative"}, "x2": {"field": "x2"}, "y": {"field": "y", "type": "quantitative"}, "y2": {"field": "y2"}}},
            {"data": {"name": "a_text"}, "mark": {"type": "text", "font": "Liberation Serif", "fontStyle": "italic", "fontSize": 13, "align": "left", "baseline": "middle", "color": "#000000"},
             "encoding": {"x": {"field": "x", "type": "quantitative"}, "y": {"field": "y", "type": "quantitative"}, "text": {"field": "sym"}}},
            {"data": {"name": "a_text"}, "mark": {"type": "text", "font": "Liberation Serif", "fontSize": 13, "align": "left", "baseline": "middle", "dx": 10, "color": "#000000"},
             "encoding": {"x": {"field": "x", "type": "quantitative"}, "y": {"field": "y", "type": "quantitative"}, "text": {"field": "rest"}}}
          ]
        },
        {
          "width": 177, "height": 165,
          "title": {"text": "Tier B", "fontSize": 10.5, "fontWeight": "bold", "offset": -2},
          "layer": [
            {"data": {"name": "b_curves"}, "mark": {"type": "line", "strokeWidth": 1, "interpolate": "monotone"},
             "encoding": {
               "x": {"field": "R", "type": "quantitative", "scale": {"domain": [0.037, 0.14], "nice": false, "zero": false}, "axis": {"values": [0.04, 0.06, 0.08, 0.1, 0.12, 0.14], "format": "~g", "title": null, "labelFontSize": 10.5, "tickSize": -3, "labelPadding": 7}},
               "y": {"field": "value", "type": "quantitative", "scale": {"domain": [-1.5, 1.5], "nice": false, "zero": false}, "axis": {"values": [0, 0.5, 1], "format": "~g", "title": null, "labelFontSize": 10.5, "tickSize": -3, "labelPadding": 7}},
               "color": {"field": "group", "type": "nominal", "scale": {"domain": ["Term", "Preterm"], "range": ["#EDB120", "#D95319"]}, "legend": null}}},
            {"data": {"name": "b_dots"}, "mark": {"type": "point", "shape": "square", "filled": true, "size": 8, "opacity": 1},
             "encoding": {"x": {"field": "R", "type": "quantitative"}, "y": {"field": "value", "type": "quantitative"}, "color": {"field": "group", "type": "nominal", "legend": null}}},
            {"data": {"name": "b_box"}, "mark": {"type": "rect", "fill": "white", "stroke": "#666666", "strokeWidth": 1},
             "encoding": {"x": {"field": "x", "type": "quantitative"}, "x2": {"field": "x2"}, "y": {"field": "y", "type": "quantitative"}, "y2": {"field": "y2"}}},
            {"data": {"name": "b_text"}, "mark": {"type": "text", "font": "Liberation Serif", "fontStyle": "italic", "fontSize": 13, "align": "left", "baseline": "middle", "color": "#000000"},
             "encoding": {"x": {"field": "x", "type": "quantitative"}, "y": {"field": "y", "type": "quantitative"}, "text": {"field": "sym"}}},
            {"data": {"name": "b_text"}, "mark": {"type": "text", "font": "Liberation Serif", "fontSize": 13, "align": "left", "baseline": "middle", "dx": 10, "color": "#000000"},
             "encoding": {"x": {"field": "x", "type": "quantitative"}, "y": {"field": "y", "type": "quantitative"}, "text": {"field": "rest"}}}
          ]
        },
        {
          "width": 175, "height": 165,
          "title": {"text": "Tier C", "fontSize": 10.5, "fontWeight": "bold", "offset": -2},
          "layer": [
            {"data": {"name": "c_curves"}, "mark": {"type": "line", "strokeWidth": 1, "interpolate": "monotone"},
             "encoding": {
               "x": {"field": "R", "type": "quantitative", "scale": {"domain": [0.074, 0.4], "nice": false, "zero": false}, "axis": {"values": [0.1, 0.2, 0.3, 0.4], "format": "~g", "title": null, "labelFontSize": 10.5, "tickSize": -3, "labelPadding": 7}},
               "y": {"field": "value", "type": "quantitative", "scale": {"domain": [-1.5, 1.5], "nice": false, "zero": false}, "axis": {"values": [0, 0.5, 1], "format": "~g", "title": null, "labelFontSize": 10.5, "tickSize": -3, "labelPadding": 7}},
               "color": {"field": "group", "type": "nominal", "scale": {"domain": ["Term", "Preterm"], "range": ["#EDB120", "#D95319"]}, "legend": null}}},
            {"data": {"name": "c_dots"}, "mark": {"type": "point", "shape": "square", "filled": true, "size": 8, "opacity": 1},
             "encoding": {"x": {"field": "R", "type": "quantitative"}, "y": {"field": "value", "type": "quantitative"}, "color": {"field": "group", "type": "nominal", "legend": null}}},
            {"data": {"name": "c_box"}, "mark": {"type": "rect", "fill": "white", "stroke": "#666666", "strokeWidth": 1},
             "encoding": {"x": {"field": "x", "type": "quantitative"}, "x2": {"field": "x2"}, "y": {"field": "y", "type": "quantitative"}, "y2": {"field": "y2"}}},
            {"data": {"name": "c_text"}, "mark": {"type": "text", "font": "Liberation Serif", "fontStyle": "italic", "fontSize": 13, "align": "left", "baseline": "middle", "color": "#000000"},
             "encoding": {"x": {"field": "x", "type": "quantitative"}, "y": {"field": "y", "type": "quantitative"}, "text": {"field": "sym"}}},
            {"data": {"name": "c_text"}, "mark": {"type": "text", "font": "Liberation Serif", "fontSize": 13, "align": "left", "baseline": "middle", "dx": 10, "color": "#000000"},
             "encoding": {"x": {"field": "x", "type": "quantitative"}, "y": {"field": "y", "type": "quantitative"}, "text": {"field": "rest"}}}
          ]
        }
      ]
    }
  ]
}
